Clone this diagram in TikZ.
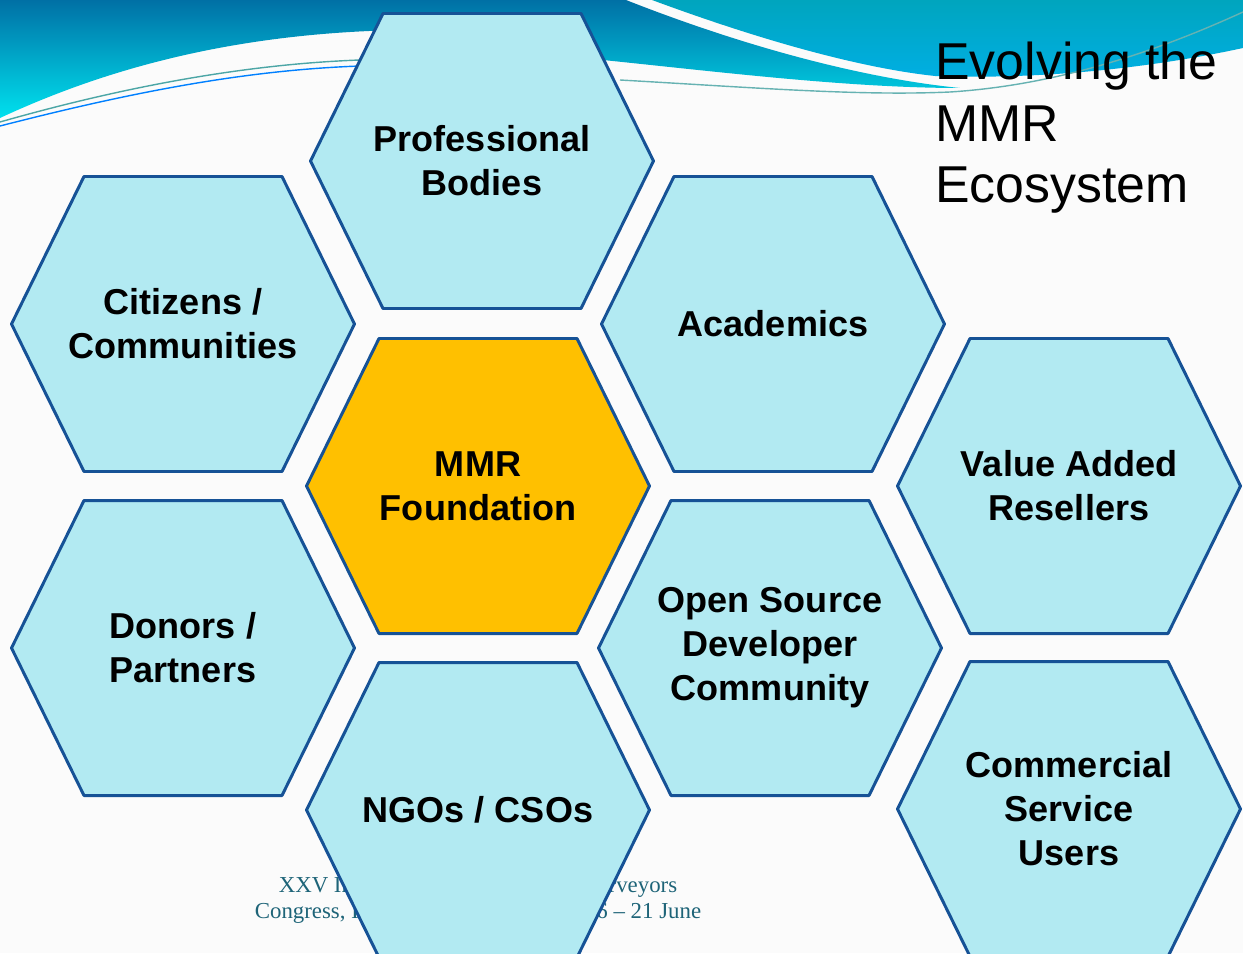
\documentclass[tikz,border=0pt]{standalone}
\usepackage{fontspec}
\setmainfont{Liberation Sans}
\newfontfamily\footfont{Liberation Serif}
\usepackage{tikz}
\definecolor{hexfill}{RGB}{178,234,242}
\definecolor{hexline}{RGB}{22,82,150}
\definecolor{gold}{RGB}{255,192,0}
\definecolor{wavetop}{RGB}{0,112,165}
\definecolor{wavebot}{RGB}{0,225,238}
\definecolor{swishtop}{RGB}{0,165,190}
\definecolor{swishbot}{RGB}{0,175,228}
\definecolor{footteal}{RGB}{30,100,120}
\definecolor{paper}{RGB}{251,251,251}
\tikzstyle{cell}=[draw=hexline,fill=hexfill,line width=1.7pt,line join=round]
\tikzstyle{celltext}=[align=center,inner sep=0pt,font=\bfseries\fontsize{20.5}{25}\selectfont]
\tikzstyle{core}=[fill=gold]
% hexagon cell: position, name, extra style, text
\newcommand{\hexcell}[4]{%
  \draw[cell,#3,shift={#1}] (-171.5,0) -- (-99,-147.5) -- (99,-147.5) -- (171.5,0)
    -- (99,147.5) -- (-99,147.5) -- cycle;
  \node[celltext] (#2) at #1 {#4};}

\begin{document}
\begin{tikzpicture}[x=0.02cm,y=-0.02cm]
\tikzstyle{swoosh}=[line width=0.8pt]
\useasboundingbox (0,0) rectangle (1243,953);
\clip (0,0) rectangle (1243,953);
\fill[paper] (0,0) rectangle (1243,953);

% header waves
\shade[top color=wavetop,bottom color=wavebot] (0,0) -- (0,118)
  .. controls (120,62) and (250,33) .. (400,30) -- (603,60)
  .. controls (720,72) and (850,88) .. (960,88)
  .. controls (860,78) and (740,45) .. (626,0) -- cycle;
\shade[top color=swishtop,bottom color=swishbot] (652,0)
  .. controls (760,40) and (860,68) .. (935,76)
  .. controls (1050,80) and (1160,66) .. (1243,48) -- (1243,0) -- cycle;
\draw[swoosh,color=teal!70] (0,122) .. controls (130,85) and (250,64) .. (360,60);
\draw[swoosh,color=blue!50!cyan] (0,126) .. controls (140,90) and (250,70) .. (360,66);
\draw[swoosh,color=teal!60] (620,80) .. controls (760,88) and (860,96) .. (950,92)
  .. controls (1060,85) and (1160,50) .. (1243,12);

% footer, partly hidden
\node[anchor=north,align=center,inner sep=0pt,text=footteal,font=\footfont\fontsize{13}{15}\selectfont] (footer) at (478,876)
  {XXV International Federation of Surveyors\\Congress, Kuala Lumpur, Malaysia 16 – 21 June};

% hexagons
\hexcell{(482,161)}{prof}{}{Professional\\Bodies}
\hexcell{(183,324)}{citizens}{}{Citizens /\\Communities}
\hexcell{(773,324)}{academics}{}{Academics}
\hexcell{(478,486)}{found}{core}{MMR\\Foundation}
\hexcell{(1069,486)}{resellers}{}{Value Added\\Resellers}
\hexcell{(183,648)}{donors}{}{Donors /\\Partners}
\hexcell{(770,648)}{opensrc}{}{Open Source\\Developer\\Community}
\hexcell{(478,810)}{ngos}{}{NGOs / CSOs}
\hexcell{(1069,809)}{commercial}{}{Commercial\\Service\\Users}

% title
\node[anchor=north west,align=left,inner sep=0pt,font=\fontsize{29.5}{35}\selectfont] (title) at (935,42)
  {Evolving the\\MMR\\Ecosystem};
\end{tikzpicture}
\end{document}
